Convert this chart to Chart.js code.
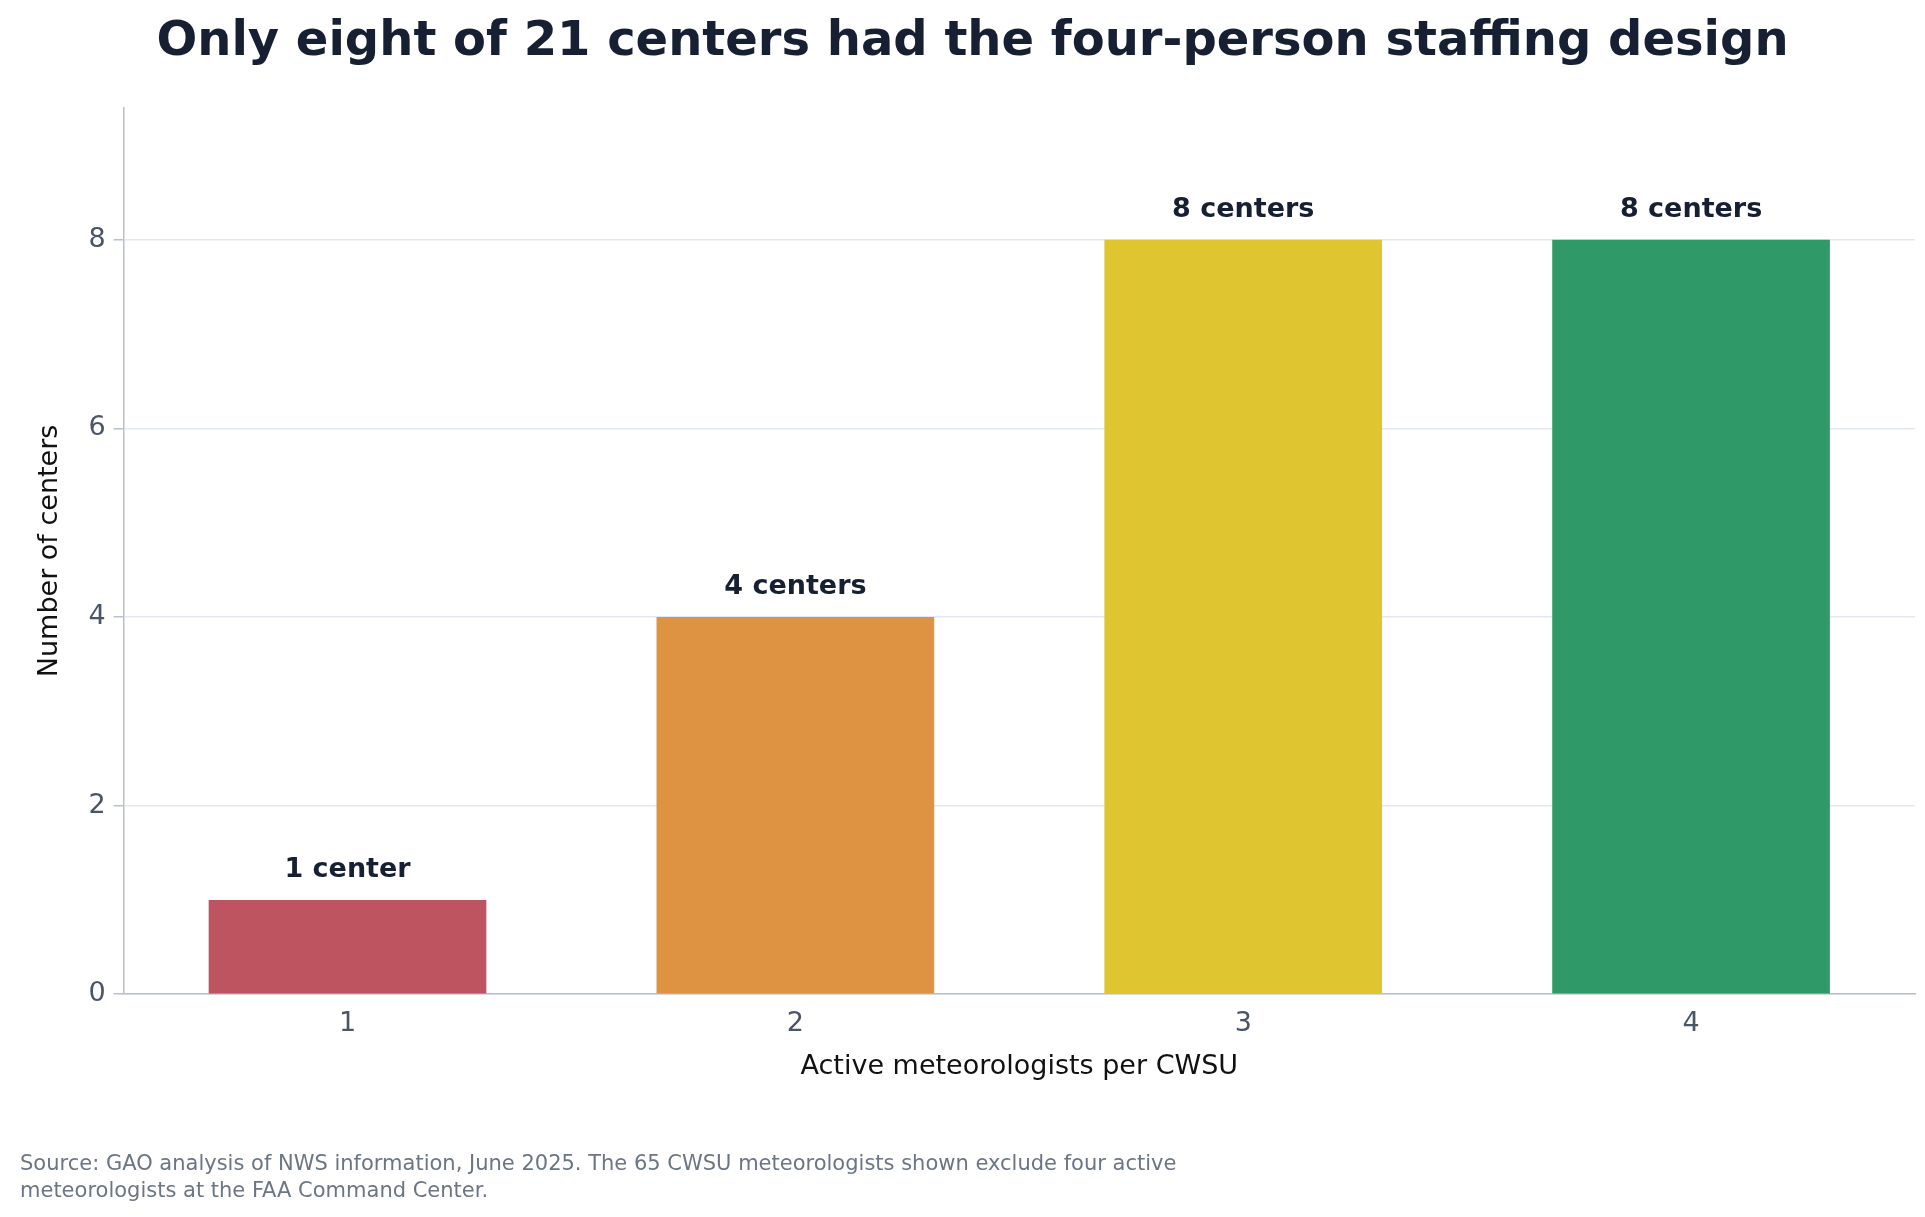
<!DOCTYPE html>
<html>
<head>
<meta charset="utf-8">
<script src="https://cdn.jsdelivr.net/npm/chart.js@4"></script>
<style>
  html, body { margin: 0; padding: 0; background: #fff; }
  #wrap { width: 1925px; height: 1217px; }
</style>
</head>
<body>
<div id="wrap"><canvas id="chart"></canvas></div>
<script>
const categories = ['1', '2', '3', '4'];
const centers = [1, 4, 8, 8];
const barLabels = ['1 center', '4 centers', '8 centers', '8 centers'];
const barColors = ['#be5460', '#de9343', '#dfc530', '#2f9a68'];
const yTicks = [0, 2, 4, 6, 8];
const sourceLines = [
    'Source: GAO analysis of NWS information, June 2025. The 65 CWSU meteorologists shown exclude four active',
    'meteorologists at the FAA Command Center.'
];

const FONT = "'DejaVu Sans', sans-serif";

// Value labels above bars and the source note
const annotate = {
    id: 'annotate',
    afterDatasetsDraw(chart) {
        const ctx = chart.ctx;
        const meta = chart.getDatasetMeta(0);
        ctx.save();
        ctx.font = 'bold 27px ' + FONT;
        ctx.fillStyle = '#172033';
        ctx.textAlign = 'center';
        ctx.textBaseline = 'bottom';
        meta.data.forEach((bar, i) => {
            ctx.fillText(barLabels[i], bar.x, bar.y - 16);
        });
        ctx.font = '21px ' + FONT;
        ctx.fillStyle = '#6b7585';
        ctx.textAlign = 'left';
        ctx.textBaseline = 'alphabetic';
        sourceLines.forEach((line, i) => ctx.fillText(line, 20, 1170 + i * 27));
        ctx.restore();
    }
};

new Chart(document.getElementById('chart'), {
    type: 'bar',
    data: {
        labels: categories,
        datasets: [{
            data: centers,
            backgroundColor: barColors,
            barPercentage: 0.62,
            categoryPercentage: 1.0
        }]
    },
    options: {
        responsive: true,
        maintainAspectRatio: false,
        animation: false,
        layout: { padding: { left: 30, right: 10, top: 10, bottom: 130 } },
        plugins: {
            legend: { display: false },
            tooltip: { enabled: false },
            title: {
                display: true,
                text: 'Only eight of 21 centers had the four-person staffing design',
                color: '#172033',
                font: { family: FONT, size: 48, weight: 'bold' },
                padding: { top: 4, bottom: 36 }
            }
        },
        scales: {
            x: {
                grid: { display: false, drawTicks: true },
                border: { color: '#b8c0cc', width: 1.5 },
                ticks: { color: '#4a5568', font: { family: FONT, size: 27 }, padding: 6 },
                title: {
                    display: true,
                    text: 'Active meteorologists per CWSU',
                    color: '#111',
                    font: { family: FONT, size: 27 },
                    padding: { top: 4 }
                }
            },
            y: {
                min: 0,
                max: 9.4,
                afterBuildTicks(axis) {
                    axis.ticks = yTicks.map(v => ({ value: v }));
                },
                grid: { color: '#e3e7ef', lineWidth: 1.5, tickColor: '#b8c0cc', tickLength: 10 },
                border: { color: '#b8c0cc', width: 1.5 },
                ticks: { color: '#4a5568', font: { family: FONT, size: 27 }, padding: 8 },
                title: {
                    display: true,
                    text: 'Number of centers',
                    color: '#111',
                    font: { family: FONT, size: 27 },
                    padding: { bottom: 14 }
                }
            }
        }
    },
    plugins: [annotate]
});
</script>
</body>
</html>
